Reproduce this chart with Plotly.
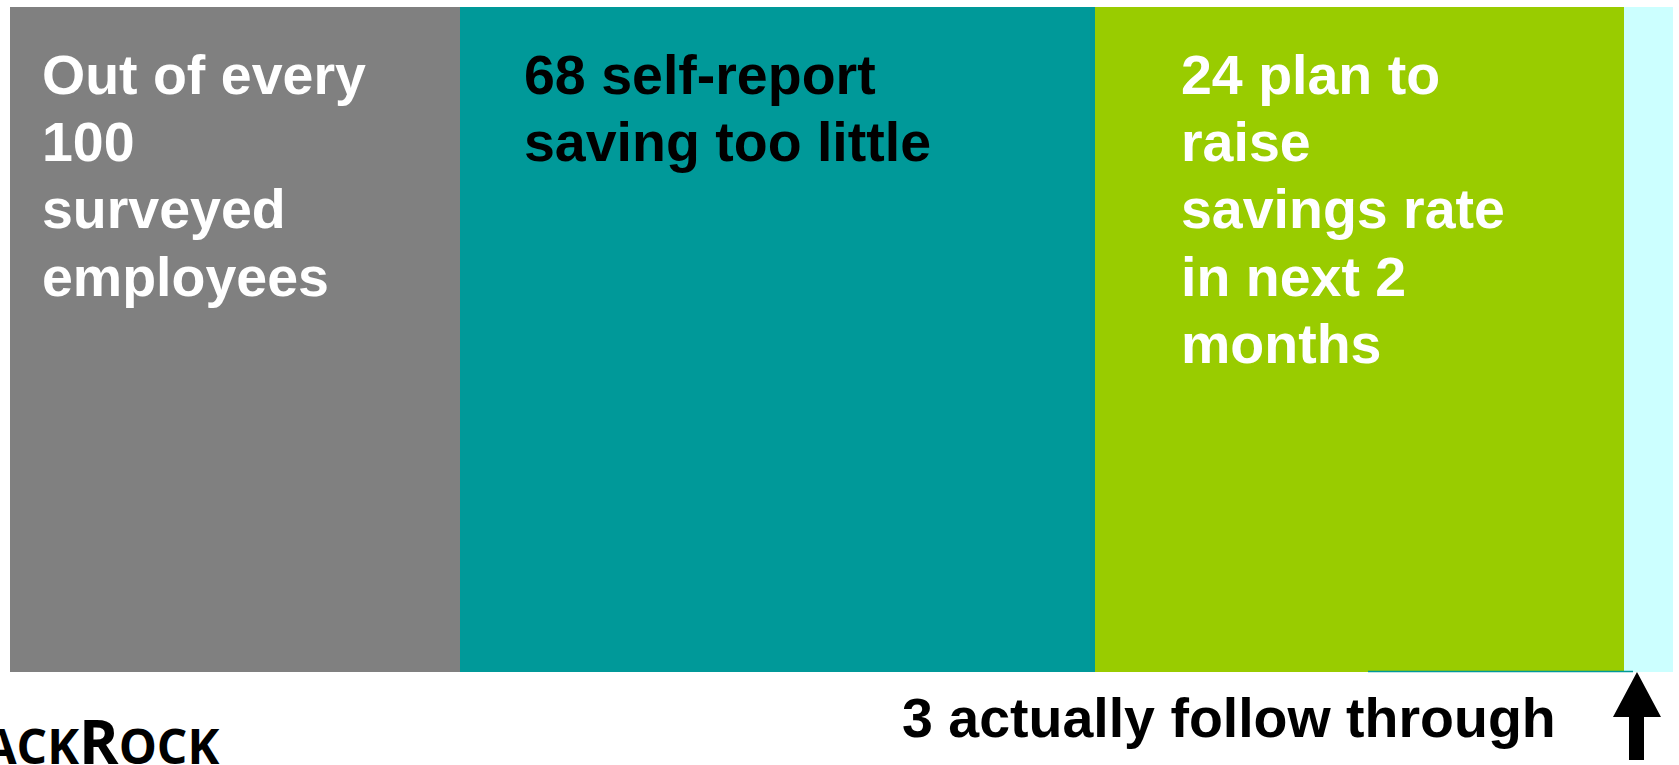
import plotly.graph_objects as go

# ---------------- data ----------------
segments = ["Surveyed employees", "Self-report saving too little",
            "Plan to raise savings rate", "Actually follow through"]
counts = [100, 68, 24, 3]
segment_widths = [450, 635, 529, 49]          # visual widths of the blocks
colors = ["#808080", "#009999", "#99CC00", "#CCFFFF"]

gray_lines = ["Out of every", f"{counts[0]}", "surveyed", "employees"]
teal_lines = [f"{counts[1]} self-report", "saving too little"]
green_lines = [f"{counts[2]} plan to", "raise", "savings rate", "in next 2", "months"]
bottom_label = f"{counts[3]} actually follow through"

# ---------------- layout helpers ----------------
W, H = 1679, 765
L, R, T, B = 10, 6, 7, 93
PW, PH = W - L - R, H - T - B


def px(x):
    return (x - L) / PW


def py(y):
    return (H - B - y) / PH


fig = go.Figure()
for name, w, c, n in zip(segments, segment_widths, colors, counts):
    fig.add_trace(go.Bar(
        x=[w], y=[0], orientation="h", width=1,
        marker=dict(color=c, line=dict(width=0)),
        name=name, showlegend=False,
        hovertemplate=f"{name}: {n}<extra></extra>",
    ))

FONT = "Liberation Sans, Arial, sans-serif"
SIZE = 55.5
line_centers = [75, 142, 209, 277, 344]

annotations = []


def add_lines(lines, x_left, color):
    for txt, yc in zip(lines, line_centers):
        annotations.append(dict(
            text=f"<b>{txt}</b>", x=px(x_left), y=py(yc), xref="paper", yref="paper",
            xanchor="left", yanchor="middle", showarrow=False,
            font=dict(family=FONT, size=SIZE, color=color),
        ))


add_lines(gray_lines, 40, "white")
add_lines(teal_lines, 522, "black")
add_lines(green_lines, 1179, "white")

annotations.append(dict(
    text=f"<b>{bottom_label}</b>", x=px(900), y=py(718), xref="paper", yref="paper",
    xanchor="left", yanchor="middle", showarrow=False,
    font=dict(family=FONT, size=SIZE, color="black"),
))

# BlackRock logo, partially cut at the left edge
annotations.append(dict(
    text="<span style='font-size:60px'>B</span>LACK<span style='font-size:60px'>R</span>OCK",
    x=px(221), y=py(741), xref="paper", yref="paper",
    xanchor="right", yanchor="middle", showarrow=False,
    font=dict(family="Open Sans, sans-serif", size=48, color="black", weight=700),
))

# arrow pointing up at the small block
arrow_pts = [(1637, 672), (1661, 717), (1644, 717), (1644, 760),
             (1629, 760), (1629, 717), (1613, 717)]
path = "M " + " L ".join(f"{px(x):.5f},{py(y):.5f}" for x, y in arrow_pts) + " Z"
shapes = [
    dict(type="path", path=path, xref="paper", yref="paper",
         fillcolor="black", line=dict(width=0)),
    dict(type="line", x0=px(1368), x1=px(1633), y0=py(671.5), y1=py(671.5),
         xref="paper", yref="paper", line=dict(color="#009999", width=1.5)),
]

fig.update_layout(
    width=W, height=H, autosize=False,
    margin=dict(l=L, r=R, t=T, b=B),
    paper_bgcolor="white", plot_bgcolor="white",
    barmode="stack", bargap=0,
    xaxis=dict(range=[0, sum(segment_widths)], visible=False, fixedrange=True),
    yaxis=dict(range=[-0.5, 0.5], visible=False, fixedrange=True),
    annotations=annotations, shapes=shapes,
    showlegend=False,
)

fig.write_html(
    "out.html",
    config={"displayModeBar": False},
    post_script="document.body.style.margin='0';document.body.style.overflow='hidden';",
)
